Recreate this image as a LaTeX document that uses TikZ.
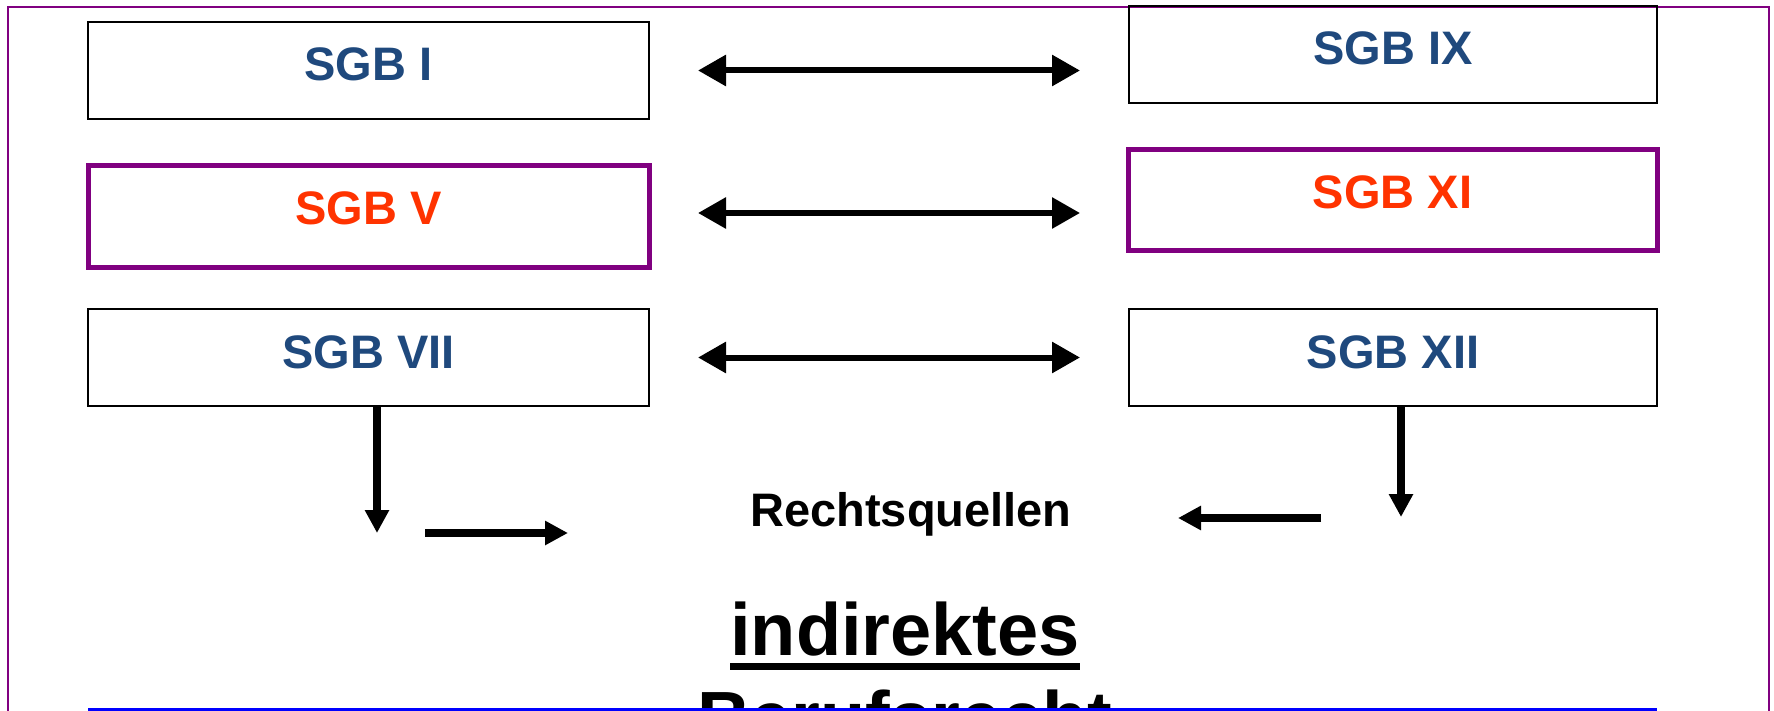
\documentclass[tikz,border=0pt]{standalone}
\usepackage{fontspec}
\setmainfont{Liberation Sans}
\usetikzlibrary{arrows.meta}
\definecolor{sgbblue}{RGB}{31,73,125}
\definecolor{sgbred}{RGB}{255,51,0}
\definecolor{framepurple}{RGB}{128,0,128}
\begin{document}
\begin{tikzpicture}[x=1pt,y=-1pt,
  sgbbox/.style={draw=black, line width=2pt, outer sep=0pt, inner xsep=0pt, inner ysep=0pt,
    text height=59pt, anchor=north west, font=\fontsize{47}{56}\selectfont\bfseries, text=sgbblue},
  hlbox/.style={sgbbox, draw=framepurple, line width=5pt, text=sgbred},
  dblarrow/.style={line width=6pt, {Triangle[length=28pt,width=30pt]}-{Triangle[length=28pt,width=30pt]}},
  downarrow/.style={line width=8pt, -{Triangle[length=23pt,width=23pt]}},
  sidearrow/.style={line width=8pt, -{Triangle[length=23pt,width=23pt]}},
  bigtext/.style={font=\fontsize{74}{88}\selectfont\bfseries, inner sep=0pt, anchor=base},
  midtext/.style={font=\fontsize{47}{56}\selectfont\bfseries, inner sep=0pt, anchor=base}]
\useasboundingbox (0,0) rectangle (1774,711);
\fill[white] (0,0) rectangle (1774,711);
\clip (0,0) rectangle (1774,711);
% outer frame
\draw[framepurple, line width=2pt] (8,7) rectangle (1769,800);
% boxes
\node[sgbbox, minimum width=561pt, text depth=38pt] (sgb1) at (88,22) {SGB I};
\node[sgbbox, minimum width=528pt, text depth=38pt] (sgb9) at (1129,6) {SGB IX};
\node[hlbox, minimum width=561pt, text depth=43pt] (sgb5) at (88,166) {SGB V};
\node[hlbox, minimum width=529pt, text depth=42pt] (sgb11) at (1128,150) {SGB XI};
\node[sgbbox, minimum width=561pt, text depth=38pt] (sgb7) at (88,309) {SGB VII};
\node[sgbbox, minimum width=528pt, text depth=38pt] (sgb12) at (1129,309) {SGB XII};
% double arrows
\draw[dblarrow] ([xshift=49pt]sgb1.east) -- ([xshift=-49pt]sgb1.east -| sgb9.west);
\draw[dblarrow] ([xshift=49pt,yshift=4pt]sgb5.east) -- ([xshift=-48pt,yshift=4pt]sgb5.east -| sgb11.west);
\draw[dblarrow] ([xshift=49pt]sgb7.east) -- ([xshift=-49pt]sgb7.east -| sgb12.west);
% texts
\node[midtext] (rq) at (911,526) {Rechtsquellen};
\node[bigtext] (ind) at (905,655) {indirektes};
\node[bigtext] (ber) at (905,743) {Berufsrecht};
\draw[line width=7pt] ([yshift=-11.5pt]ind.base west) -- ([yshift=-11.5pt]ind.base east);
% down arrows
\draw[downarrow] ([xshift=8.5pt]sgb7.south) -- ++(0,127);
\draw[downarrow] ([xshift=8pt]sgb12.south) -- ++(0,111);
% side arrows
\coordinate (ra1) at (425,533);
\coordinate (ra2) at (568,533);
\coordinate (la1) at (1321,518);
\coordinate (la2) at (1178,518);
\draw[sidearrow] (ra1) -- (ra2);
\draw[sidearrow] (la1) -- (la2);
% bottom blue line
\draw[blue, line width=3pt] (88,709.5) -- (1657,709.5);
\end{tikzpicture}
\end{document}
